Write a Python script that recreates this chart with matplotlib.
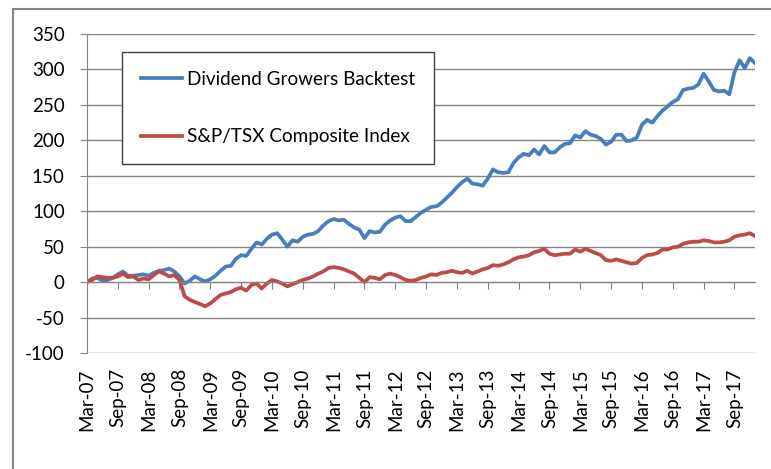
import numpy as np
import matplotlib
matplotlib.use("Agg")
import matplotlib.pyplot as plt
from matplotlib.lines import Line2D

plt.rcParams['font.family'] = ['Lato', 'DejaVu Sans']
plt.rcParams['axes.unicode_minus'] = False

# monthly, Mar-07 .. Jan-18
growers = [0, 5, 6, 2, 3, 6, 11, 15, 9, 9, 10, 11, 9, 13, 16, 17, 19, 15, 8, -2,
           2, 8, 4, 1, 4, 9, 16, 22, 23, 33, 38, 37, 47, 56, 53, 61, 67, 69, 60, 50,
           59, 57, 64, 67, 68, 72, 80, 86, 89, 87, 88, 82, 77, 74, 62, 72, 70, 71, 81, 87,
           91, 93, 86, 86, 92, 98, 102, 106, 107, 112, 119, 126, 134, 141, 146, 139, 138, 136, 146, 159,
           155, 154, 155, 168, 176, 181, 179, 187, 180, 192, 183, 183, 190, 195, 196, 207, 204, 213, 208, 206,
           202, 194, 198, 208, 208, 199, 200, 204, 222, 229, 225, 234, 242, 248, 254, 258, 271, 273, 274, 279,
           294, 283, 271, 269, 270, 265, 296, 313, 302, 316, 309]
tsx = [0, 3, 8, 7, 6, 6, 8, 12, 7, 8, 3, 5, 4, 10, 15, 12, 8, 10, 3, -20,
       -25, -28, -31, -34, -30, -24, -18, -16, -14, -10, -8, -12, -4, -2, -9, -2, 3, 1, -2, -6,
       -3, 0, 3, 5, 8, 12, 15, 20, 21, 20, 18, 15, 12, 6, 0, 7, 6, 4, 10, 12,
       10, 7, 3, 2, 3, 6, 8, 11, 10, 13, 14, 16, 14, 13, 16, 12, 15, 18, 20, 24,
       23, 25, 28, 32, 35, 36, 38, 42, 44, 47, 40, 38, 39, 40, 40, 46, 43, 47, 44, 41,
       38, 31, 30, 32, 30, 28, 26, 27, 34, 38, 39, 41, 46, 46, 49, 50, 54, 56, 57, 57,
       59, 58, 56, 56, 57, 59, 64, 66, 67, 69, 65]
tick_labels = ['Mar-07', 'Sep-07', 'Mar-08', 'Sep-08', 'Mar-09', 'Sep-09', 'Mar-10', 'Sep-10',
               'Mar-11', 'Sep-11', 'Mar-12', 'Sep-12', 'Mar-13', 'Sep-13', 'Mar-14', 'Sep-14',
               'Mar-15', 'Sep-15', 'Mar-16', 'Sep-16', 'Mar-17', 'Sep-17']
names = ['Dividend Growers Backtest', 'S&P/TSX Composite Index']

W, H = 771, 469
fig = plt.figure(figsize=(W / 100, H / 100), dpi=100)
ax = fig.add_axes([87 / W, (H - 353) / H, 668 / W, 319 / H])

x = np.arange(len(growers))
ax.plot(x, growers, color='#4A7EBB', lw=2.7, label=names[0], solid_joinstyle='round')
ax.plot(x, tsx, color='#BE4B48', lw=2.7, label=names[1], solid_joinstyle='round')

grey = '#868686'
ax.set_xlim(0, len(growers) - 1)
ax.set_ylim(-100, 350)
ax.set_yticks(np.arange(-100, 351, 50))
ax.yaxis.grid(True, color=grey, lw=1)
ax.set_axisbelow(True)

for s in ['top', 'right']:
    ax.spines[s].set_visible(False)
ax.spines['left'].set_color(grey)
ax.spines['bottom'].set_color(grey)
ax.spines['bottom'].set_position(('data', 0))

ax.set_xticks(np.arange(0, len(growers), 6))
ax.set_xticklabels(tick_labels, rotation=90, va='top')
ax.tick_params(axis='x', length=5, color=grey, pad=57, labelsize=13.5, labelcolor='black')
ax.tick_params(axis='y', length=5, color=grey, pad=11, labelsize=13.5, labelcolor='black')

leg = ax.legend(loc='upper left', bbox_to_anchor=(122 / W, 1 - 52 / H),
                bbox_transform=fig.transFigure, borderaxespad=0, fontsize=13.6,
                handlelength=2.2, handletextpad=0.25, labelspacing=2.15,
                borderpad=1.0, fancybox=False, framealpha=1)
leg.get_frame().set_edgecolor('#404040')
leg.get_frame().set_linewidth(1.0)

# chart area border (cut at right/bottom)
fig.add_artist(Line2D([13 / W, 13 / W], [0, 1 - 9 / H], color=grey, lw=1.5,
                      transform=fig.transFigure))
fig.add_artist(Line2D([13 / W, 1], [1 - 9 / H, 1 - 9 / H], color=grey, lw=1.5,
                      transform=fig.transFigure))

fig.savefig('out.png', dpi=100)
